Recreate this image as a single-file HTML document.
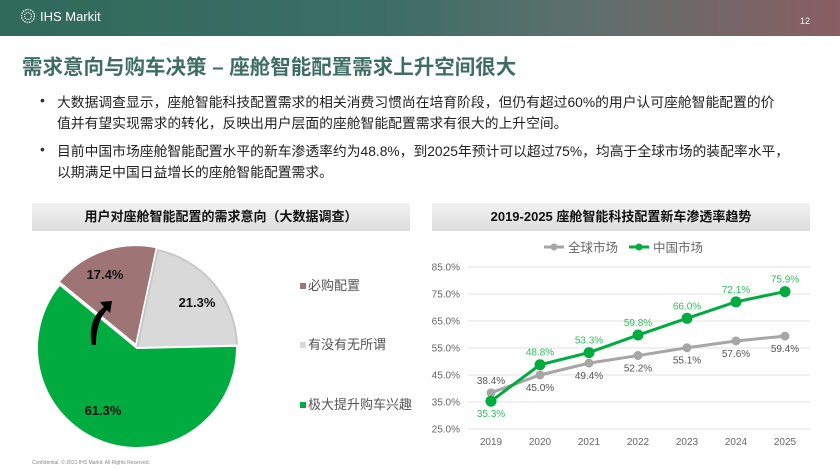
<!DOCTYPE html>
<html><head><meta charset="utf-8">
<style>
body{margin:0;width:840px;height:471px;overflow:hidden;background:#fff;font-family:"Liberation Sans","Noto Sans CJK SC",sans-serif;position:relative}
.hdr{position:absolute;left:0;top:0;width:840px;height:36px;background:linear-gradient(90deg,#2f6a5a 0%,#3c6e66 45%,#5e6f6c 70%,#8a5e63 100%)}
.abs{position:absolute;white-space:nowrap}
.bul{position:absolute;left:57px;font-size:13.8px;color:#222;line-height:21px}
.dot{position:absolute;left:40px;font-size:14px;color:#333}
.boxh{position:absolute;top:203px;height:28px;background:linear-gradient(#f2f2f2,#dcdcdc);font-weight:bold;font-size:13px;color:#111;text-align:center;line-height:28px}
</style></head><body>
<div class="hdr"></div>
<div class="abs" style="left:20px;top:8px;color:#fff;font-size:13px;display:flex;align-items:center;gap:4px">
<svg width="16" height="16" viewBox="0 0 16 16"><g stroke="#fff" stroke-width="1.2" fill="none"><circle cx="8" cy="8" r="6.5" stroke-dasharray="1.5 1"/><circle cx="8" cy="8" r="3.5" stroke-dasharray="1 1"/></g></svg>IHS Markit</div>
<div class="abs" style="left:800px;top:16px;color:#eee;font-size:9px">12</div>
<div class="abs" style="left:22px;top:50px;font-size:20.5px;font-weight:bold;color:#3e6e63">需求意向与购车决策 – 座舱智能配置需求上升空间很大</div>
<div class="dot" style="top:92px">•</div>
<div class="bul" style="top:92px">大数据调查显示，座舱智能科技配置需求的相关消费习惯尚在培育阶段，但仍有超过60%的用户认可座舱智能配置的价<br>值并有望实现需求的转化，反映出用户层面的座舱智能配置需求有很大的上升空间。</div>
<div class="dot" style="top:141px">•</div>
<div class="bul" style="top:141px">目前中国市场座舱智能配置水平的新车渗透率约为48.8%，到2025年预计可以超过75%，均高于全球市场的装配率水平，<br>以期满足中国日益增长的座舱智能配置需求。</div>

<div class="boxh" style="left:32px;width:378px">用户对座舱智能配置的需求意向（大数据调查）</div>
<div class="boxh" style="left:432px;width:378px">2019-2025 座舱智能科技配置新车渗透率趋势</div>

<svg id="pie" width="420" height="240" style="position:absolute;left:0;top:231px"></svg>
<svg id="line" width="420" height="240" style="position:absolute;left:420px;top:231px"></svg>
<div class="abs" style="left:32px;top:460px;font-size:5px;color:#888">Confidential. © 2021 IHS Markit. All Rights Reserved.</div>

<script>
const pieLabels=["必购配置","有没有无所谓","极大提升购车兴趣"];
const pieValues=[17.4,21.3,61.3];
const pieColors=["#9e7474","#d9d9d9","#00ab3f"];
const years=["2019","2020","2021","2022","2023","2024","2025"];
const globalVals=[38.4,45.0,49.4,52.2,55.1,57.6,59.4];
const chinaVals=[35.3,48.8,53.3,59.8,66.0,72.1,75.9];
const yTicks=[25,35,45,55,65,75,85];
const NS="http://www.w3.org/2000/svg";
function mk(svg,t,a,txt){const e=document.createElementNS(NS,t);for(const k in a)e.setAttribute(k,a[k]);if(txt!==undefined)e.textContent=txt;svg.appendChild(e);return e;}

const P=document.getElementById('pie');
const cx=137,cy=117,r=100;
const total=pieValues.reduce((a,b)=>a+b,0);
let start=12-pieValues[0]/total*360;
const labelPos=[[105,48],[197,76],[103,184]];
pieValues.forEach((v,i)=>{
  const a0=start*Math.PI/180, a1=(start+v/total*360)*Math.PI/180;
  const mid=(a0+a1)/2, off=i==0?3:0;
  const ox=cx+off*Math.sin(mid), oy=cy-off*Math.cos(mid);
  const x0=ox+r*Math.sin(a0),y0=oy-r*Math.cos(a0),x1=ox+r*Math.sin(a1),y1=oy-r*Math.cos(a1);
  const large=(a1-a0)>Math.PI?1:0;
  const p=mk(P,'path',{d:`M${ox},${oy}L${x0},${y0}A${r},${r} 0 ${large} 1 ${x1},${y1}Z`,fill:pieColors[i],stroke:i==1?'#c8c8c8':'#fff','stroke-width':2});
  
  
  const lp=labelPos[i];
  const t=mk(P,'text',{x:lp[0],y:lp[1],'font-size':13,'font-weight':'bold',fill:'#111','text-anchor':'middle'},v.toFixed(1)+'%');
  
  
  start+=v/total*360;
  const ly=[57,116,176][i];
  const sq=mk(P,'rect',{x:300,y:ly-5,width:6,height:6,fill:pieColors[i]});
  
  
  const lt=mk(P,'text',{x:308,y:ly+2,'font-size':13,fill:'#555'},pieLabels[i]);
  
  
});
const arr=mk(P,'path',{d:'M92,114 C88,95 95,82 104,76 L100,71 L112,70 L110,82 L107,79 C100,86 96,98 96,114 Z',fill:'#000'});



const L=document.getElementById('line');
const X=i=>71+i*49;
const Y=v=>198-(v-25)*(162/60);
yTicks.forEach(t=>{
  const g=mk(L,'line',{x1:48,x2:390,y1:Y(t),y2:Y(t),stroke:'#e2e2e2','stroke-width':1});
  
  
  const tl=mk(L,'text',{x:40,y:Y(t)+3.5,'font-size':10,fill:'#666','text-anchor':'end'},t.toFixed(1)+'%');
  
  
});
years.forEach((y,i)=>{
  const t=mk(L,'text',{x:X(i),y:214,'font-size':10,fill:'#666','text-anchor':'middle'},y);
  
  
});
function series(vals,color,lblColor,name,below,rad){
  const pl=mk(L,'polyline',{points:vals.map((v,i)=>X(i)+','+Y(v)).join(' '),fill:'none',stroke:color,'stroke-width':3});
  
  
  vals.forEach((v,i)=>{
    const c=mk(L,'circle',{cx:X(i),cy:Y(v),r:rad,fill:color});
    
    
    const b=below(i);
    const t=mk(L,'text',{x:X(i),y:Y(v)+(b?16:-9),'font-size':10,fill:lblColor,'text-anchor':'middle'},v.toFixed(1)+'%');
    
    
  });
}
series(globalVals,'#a6a6a6','#555','global',i=>i!==0,4.5);
series(chinaVals,'#00ab3f','#2cc25a','china',i=>i===0,5.5);
const lg1=mk(L,'line',{x1:124,x2:144,y1:16,y2:16,stroke:'#a6a6a6','stroke-width':3});


mk(L,'circle',{cx:134,cy:16,r:3.5,fill:'#a6a6a6'});
const lt1=mk(L,'text',{x:148,y:21,'font-size':12.5,fill:'#666'},'全球市场');


const lg2=mk(L,'line',{x1:209,x2:229,y1:16,y2:16,stroke:'#00ab3f','stroke-width':3});


mk(L,'circle',{cx:219,cy:16,r:3.5,fill:'#00ab3f'});
const lt2=mk(L,'text',{x:233,y:21,'font-size':12.5,fill:'#666'},'中国市场');


</script>
</body></html>
